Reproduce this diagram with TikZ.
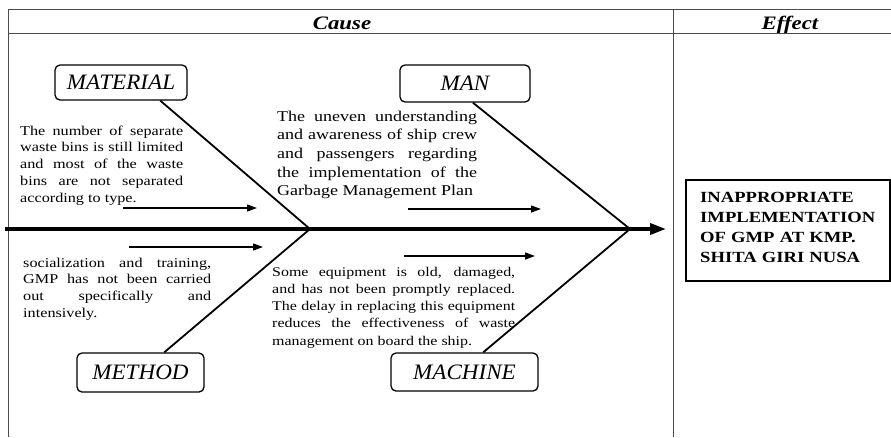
\documentclass[tikz,border=0pt]{standalone}
\usepackage{fontspec}
\setmainfont{Liberation Serif}[FakeStretch=1.2]
\newfontfamily\labelfont{Liberation Serif}[FakeStretch=1.05]
\usetikzlibrary{arrows.meta,calc}
\begin{document}
\begin{tikzpicture}[x=1pt,y=-1pt,
  tbl/.style={draw=black!70, line width=0.9pt},
  catbox/.style={draw, rounded corners=5pt, line width=1.3pt, inner sep=0pt,
    font=\labelfont\fontsize{22}{24}\selectfont\itshape},
  bone/.style={line width=1.8pt},
  smallarrow/.style={line width=1.3pt, -{Triangle[length=10pt,width=7pt]}},
  causetext/.style={anchor=base west, inner sep=0pt, align=justify},
  headtext/.style={anchor=base, inner sep=0pt, font=\fontsize{19}{21}\selectfont\bfseries\itshape}
]
\useasboundingbox (0,0) rectangle (891,437);
% table
\coordinate (tl) at (8,9);
\coordinate (tr) at (891,9);
\coordinate (hl) at (8,33);
\coordinate (hr) at (891,33);
\coordinate (bl) at (8,437);
\coordinate (dt) at (673,9);
\coordinate (db) at (673,437);
\draw[tbl] (tl) -- (tr);
\draw[tbl] (hl) -- (hr);
\draw[tbl] (tl) -- (bl);
\draw[tbl] (dt) -- (db);
\node[headtext] (cause) at (342,29) {Cause};
\node[headtext] (effect) at (790,29) {Effect};

% category boxes
\node[catbox, minimum width=132pt, minimum height=35pt] (mat) at (121,82.5) {MATERIAL};
\node[catbox, minimum width=130pt, minimum height=37pt] (man) at (465,83.5) {MAN};
\node[catbox, minimum width=127pt, minimum height=39pt] (met) at (140.5,372.5) {METHOD};
\node[catbox, minimum width=147pt, minimum height=38pt] (mac) at (464.5,372) {MACHINE};

% spine
\coordinate (spinestart) at (5,229);
\coordinate (j1) at (310,229);
\coordinate (j2) at (630,229);
\coordinate (head) at (666,229);
\draw[line width=3.5pt, -{Triangle[length=16pt,width=11pt]}] (spinestart) -- (head);

% bones
\draw[bone] ($(mat.south west)!0.795!(mat.south east)$) -- (j1);
\draw[bone] ($(met.north west)!0.685!(met.north east)$) -- (j1);
\draw[bone] ($(man.south west)!0.56!(man.south east)$) -- (j2);
\draw[bone] ($(mac.north west)!0.626!(mac.north east)$) -- (j2);

% small arrows
\coordinate (a1s) at (123,208); \coordinate (a1e) at (257,208);
\coordinate (a2s) at (408,209); \coordinate (a2e) at (541,209);
\coordinate (a3s) at (129,247); \coordinate (a3e) at (263,247);
\coordinate (a4s) at (404,256); \coordinate (a4e) at (535,256);
\draw[smallarrow] (a1s) -- (a1e);
\draw[smallarrow] (a2s) -- (a2e);
\draw[smallarrow] (a3s) -- (a3e);
\draw[smallarrow] (a4s) -- (a4e);

% cause texts
\node[causetext, text width=163pt, font=\fontsize{13.5}{16.8}\selectfont] (tmat) at (20,135)
  {The number of separate\linebreak waste bins is still limited\linebreak and most of the waste\linebreak bins are not separated\linebreak according to type.};
\node[causetext, text width=200pt, font=\fontsize{15}{18.7}\selectfont] (tman) at (277,121)
  {The uneven understanding\linebreak and awareness of ship crew\linebreak and passengers regarding\linebreak the implementation of the\linebreak Garbage Management Plan};
\node[causetext, text width=188pt, font=\fontsize{13.5}{16.7}\selectfont] (tmet) at (23,267)
  {socialization and training,\linebreak GMP has not been carried\linebreak out specifically and\linebreak intensively.};
\node[causetext, text width=243pt, font=\fontsize{13.3}{17.3}\selectfont] (tmac) at (272,276)
  {Some equipment is old, damaged,\linebreak and has not been promptly replaced.\linebreak The delay in replacing this equipment\linebreak reduces the effectiveness of waste\linebreak management on board the ship.};

% effect
\node[draw, line width=1.6pt, minimum width=204pt, minimum height=101pt, inner sep=0pt] (eff) at (788,230.5) {};
\node[anchor=base west, inner sep=0pt, text width=188pt, align=left, font=\fontsize{15.5}{20.3}\selectfont\bfseries] (efftext) at (700,202)
  {INAPPROPRIATE\\IMPLEMENTATION\\OF GMP AT KMP.\\SHITA GIRI NUSA};
\end{tikzpicture}
\end{document}
